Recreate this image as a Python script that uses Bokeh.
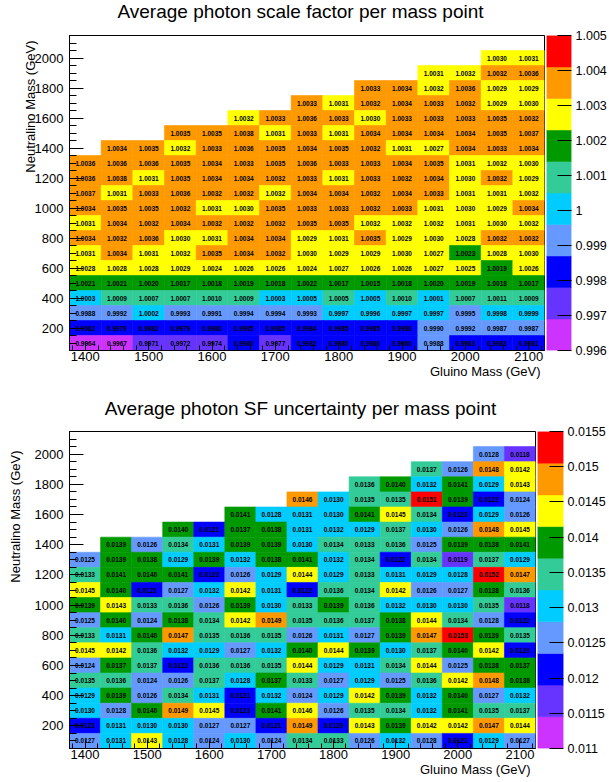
from bokeh.plotting import figure
from bokeh.models import (Range1d, LinearColorMapper, FixedTicker, Title,
                          SingleIntervalTicker, CustomJSTickFormatter, ColumnDataSource)
from bokeh.layouts import column, row
from bokeh.embed import file_html
from bokeh.resources import INLINE
from bokeh.core.properties import value

# ---------------- data ----------------
gluino = [1400, 1450, 1500, 1550, 1600, 1650, 1700, 1750, 1800, 1850, 1900, 1950, 2000, 2050, 2100]
neutralino = [2000, 1900, 1800, 1700, 1600, 1500, 1400, 1300, 1200, 1100,
              1000, 900, 800, 700, 600, 500, 400, 300, 200, 100]

N = None
# Average photon scale factor (rows listed from top, neutralino 2000 ... 100)
sf_2000 = [N, N, N, N, N, N, N, N, N, N, N, N, N, 1.0030, 1.0031]
sf_1900 = [N, N, N, N, N, N, N, N, N, N, N, 1.0031, 1.00318, 1.00322, 1.0036]
sf_1800 = [N, N, N, N, N, N, N, N, N, 1.0033, 1.0034, 1.00318, 1.0036, 1.0029, 1.0029]
sf_1700 = [N, N, N, N, N, N, N, 1.0033, 1.0031, 1.00322, 1.0034, 1.0033, 1.00322, 1.0029, 1.0030]
sf_1600 = [N, N, N, N, N, 1.00318, 1.0033, 1.0036, 1.0033, 1.0030, 1.0033, 1.0033, 1.0033, 1.0035, 1.00322]
sf_1500 = [N, N, N, 1.0035, 1.0035, 1.0038, 1.0031, 1.0033, 1.0031, 1.0034, 1.0034, 1.0034, 1.0034, 1.0035, 1.0037]
sf_1400 = [N, 1.0034, 1.0035, 1.00318, 1.0033, 1.0036, 1.0035, 1.0034, 1.0035, 1.00322, 1.0031, 1.0027, 1.0034, 1.0033, 1.0034]
sf_1300 = [1.0036, 1.0036, 1.0036, 1.0035, 1.0034, 1.0033, 1.0035, 1.0036, 1.0033, 1.0033, 1.0034, 1.0035, 1.0031, 1.00318, 1.0030]
sf_1200 = [1.0036, 1.0038, 1.0031, 1.0035, 1.0034, 1.0034, 1.00322, 1.0033, 1.0031, 1.0033, 1.00322, 1.0034, 1.0030, 1.00322, 1.0029]
sf_1100 = [1.0037, 1.0031, 1.0033, 1.0036, 1.00322, 1.00322, 1.00318, 1.0034, 1.0034, 1.00322, 1.0034, 1.0033, 1.0031, 1.0031, 1.00318]
sf_1000 = [1.0034, 1.0035, 1.0035, 1.00322, 1.0031, 1.0030, 1.0035, 1.0033, 1.0033, 1.00322, 1.0033, 1.0031, 1.0030, 1.0029, 1.0034]
sf_0900 = [1.0031, 1.0034, 1.00322, 1.0034, 1.00322, 1.00322, 1.00322, 1.0035, 1.0035, 1.00318, 1.00318, 1.00318, 1.0031, 1.0030, 1.00318]
sf_0800 = [1.0034, 1.00322, 1.0036, 1.0030, 1.0031, 1.0034, 1.0034, 1.0029, 1.0031, 1.0035, 1.0029, 1.0030, 1.0028, 1.00322, 1.00322]
sf_0700 = [1.0031, 1.0034, 1.0031, 1.00318, 1.0035, 1.0034, 1.00322, 1.0030, 1.0029, 1.0029, 1.0030, 1.0027, 1.00228, 1.0028, 1.0030]
sf_0600 = [1.0028, 1.0028, 1.0028, 1.0029, 1.0024, 1.0026, 1.0026, 1.0024, 1.0027, 1.0026, 1.0026, 1.0027, 1.0025, 1.0019, 1.0026]
sf_0500 = [1.0021, 1.0021, 1.0020, 1.0017, 1.0018, 1.0019, 1.0018, 1.0022, 1.0017, 1.0015, 1.0018, 1.0020, 1.0019, 1.0018, 1.0017]
sf_0400 = [1.0003, 1.0009, 1.0007, 1.0007, 1.0010, 1.0009, 1.0003, 1.00048, 1.00052, 1.00048, 1.0010, 1.0001, 1.0007, 1.0011, 1.0009]
sf_0300 = [0.9988, 0.9992, 1.0002, 0.9993, 0.9991, 0.9994, 0.9994, 0.9993, 0.9997, 0.99962, 0.9997, 0.9997, 0.9995, 0.9998, 0.9999]
sf_0200 = [0.9982, 0.9979, 0.9982, 0.9979, 0.9980, 0.9985, 0.9985, 0.9984, 0.9985, 0.9985, 0.9986, 0.9990, 0.9992, 0.99872, 0.99872]
sf_0100 = [0.9964, 0.9967, 0.9971, 0.9972, 0.9974, 0.9980, 0.9977, 0.9982, 0.9980, 0.9980, 0.9980, 0.9988, 0.9983, 0.9983, 0.9981]

# Average photon SF uncertainty
un_2000 = [N, N, N, N, N, N, N, N, N, N, N, N, N, 0.01279, 0.0118]
un_1900 = [N, N, N, N, N, N, N, N, N, N, N, 0.01369, 0.0126, 0.0148, 0.0142]
un_1800 = [N, N, N, N, N, N, N, N, N, 0.0136, 0.0140, 0.0132, 0.0141, 0.0129, 0.0143]
un_1700 = [N, N, N, N, N, N, N, 0.01461, 0.0130, 0.0135, 0.0135, 0.0151, 0.0139, 0.0122, 0.0124]
un_1600 = [N, N, N, N, N, 0.0141, 0.01281, 0.0131, 0.0130, 0.0141, 0.0145, 0.0134, 0.0123, 0.0129, 0.0126]
un_1500 = [N, N, N, 0.0140, 0.0121, 0.01371, 0.0138, 0.0131, 0.0132, 0.0129, 0.01369, 0.0130, 0.0126, 0.0148, 0.0145]
un_1400 = [N, 0.0139, 0.0126, 0.0134, 0.0131, 0.0139, 0.0139, 0.0130, 0.0134, 0.0133, 0.0136, 0.0125, 0.0139, 0.0138, 0.0141]
un_1300 = [0.0125, 0.0139, 0.0138, 0.0129, 0.0139, 0.0132, 0.0138, 0.0141, 0.0132, 0.0134, 0.0122, 0.0134, 0.01189, 0.01369, 0.0129]
un_1200 = [0.0133, 0.0141, 0.0140, 0.0141, 0.0123, 0.0126, 0.0129, 0.0144, 0.0129, 0.0133, 0.0131, 0.0129, 0.01281, 0.0152, 0.0147]
un_1100 = [0.0145, 0.0140, 0.0121, 0.0127, 0.0132, 0.0142, 0.0131, 0.0122, 0.0136, 0.0134, 0.0142, 0.0126, 0.0127, 0.0138, 0.0136]
un_1000 = [0.0139, 0.0143, 0.0133, 0.0136, 0.0126, 0.0139, 0.0130, 0.0133, 0.0139, 0.0136, 0.0132, 0.0130, 0.0130, 0.0135, 0.0118]
un_0900 = [0.0125, 0.0140, 0.0124, 0.0138, 0.0134, 0.0142, 0.0149, 0.0135, 0.0136, 0.01369, 0.0138, 0.0144, 0.0134, 0.01279, 0.0122]
un_0800 = [0.0133, 0.0131, 0.0140, 0.0147, 0.0135, 0.0136, 0.0135, 0.0126, 0.0131, 0.0127, 0.0139, 0.0147, 0.0153, 0.0139, 0.0135]
un_0700 = [0.0145, 0.0142, 0.0136, 0.0132, 0.0129, 0.0127, 0.0132, 0.0140, 0.0144, 0.0139, 0.0130, 0.01369, 0.0140, 0.0142, 0.0123]
un_0600 = [0.0124, 0.01371, 0.01369, 0.0122, 0.0136, 0.0136, 0.0135, 0.0144, 0.0129, 0.0131, 0.0134, 0.0144, 0.0125, 0.0138, 0.01371]
un_0500 = [0.0135, 0.0136, 0.0124, 0.0126, 0.01369, 0.01281, 0.01371, 0.0133, 0.0127, 0.0129, 0.0125, 0.0136, 0.0142, 0.0148, 0.0138]
un_0400 = [0.0129, 0.0139, 0.0126, 0.0134, 0.0131, 0.0121, 0.0132, 0.0124, 0.0129, 0.0142, 0.0139, 0.0132, 0.0140, 0.0127, 0.0132]
un_0300 = [0.0130, 0.01279, 0.0140, 0.0149, 0.0145, 0.0123, 0.0141, 0.01459, 0.0126, 0.0135, 0.0134, 0.0132, 0.0141, 0.0135, 0.01369]
un_0200 = [0.0123, 0.0131, 0.0130, 0.0130, 0.0127, 0.0127, 0.0121, 0.0149, 0.0120, 0.0143, 0.0139, 0.0142, 0.0142, 0.0147, 0.0144]
un_0100 = [0.0127, 0.0131, 0.0143, 0.01281, 0.0124, 0.0130, 0.0124, 0.0134, 0.0133, 0.0126, 0.0132, 0.01279, 0.0121, 0.0129, 0.0127]

sf_rows = [sf_2000, sf_1900, sf_1800, sf_1700, sf_1600, sf_1500, sf_1400, sf_1300, sf_1200, sf_1100,
           sf_1000, sf_0900, sf_0800, sf_0700, sf_0600, sf_0500, sf_0400, sf_0300, sf_0200, sf_0100]
un_rows = [un_2000, un_1900, un_1800, un_1700, un_1600, un_1500, un_1400, un_1300, un_1200, un_1100,
           un_1000, un_0900, un_0800, un_0700, un_0600, un_0500, un_0400, un_0300, un_0200, un_0100]

sf_ticks = [0.996, 0.997, 0.998, 0.999, 1.0, 1.001, 1.002, 1.003, 1.004, 1.005]
un_ticks = [0.011, 0.0115, 0.012, 0.0125, 0.013, 0.0135, 0.014, 0.0145, 0.015, 0.0155]

palette = ["#CC33FF", "#6633FF", "#0000FF", "#6699FF", "#00CCFF",
           "#33CC99", "#009900", "#FFFF00", "#FF9900", "#FF0000"]

title_top = "Average photon scale factor per mass point"
title_bot = "Average photon SF uncertainty per mass point"
xtitle = "Gluino Mass (GeV)"
ytitle = "Neutralino Mass (GeV)"

FONT = "Liberation Sans"
W = 609


def title_strip(text, height, center_from_top):
    t = figure(width=W, height=height, x_range=Range1d(0, W), y_range=Range1d(0, height),
               output_backend="svg", toolbar_location=None, x_axis_location=None,
               y_axis_location=None, min_border=0)
    t.grid.visible = False
    t.outline_line_color = None
    t.background_fill_color = "white"
    t.border_fill_color = "white"
    t.text(x=[300], y=[height - center_from_top], text=[text], text_align="center",
           text_baseline="middle", text_font=value(FONT), text_font_size="19px",
           text_color="black")
    return t


def make_panel(rows, low, high, ticks, H, main_w, cb_w, bar_w, top, bottom,
               xt_off, xt_standoff, yt_off, yt_standoff):
    xs, ys, zs, lbls = [], [], [], []
    for r, rw in enumerate(rows):
        for c, v in enumerate(rw):
            if v is None:
                continue
            xs.append(gluino[c]); ys.append(neutralino[r]); zs.append(v)
            lbls.append("%.4f" % v)
    src = ColumnDataSource(dict(x=xs, y=ys, z=zs, lbl=lbls))
    mapper = LinearColorMapper(palette=palette, low=low, high=high)

    p = figure(width=main_w, height=H, x_range=Range1d(1375, 2125), y_range=Range1d(50, 2150),
               output_backend="svg", toolbar_location=None,
               min_border_left=69, min_border_right=2,
               min_border_top=top, min_border_bottom=bottom)
    p.grid.visible = False
    p.outline_line_color = "black"
    p.outline_line_width = 1
    p.background_fill_color = "white"
    p.border_fill_color = "white"

    p.rect(x="x", y="y", width=50, height=100, source=src,
           fill_color={"field": "z", "transform": mapper},
           line_color={"field": "z", "transform": mapper}, line_width=0.6)
    p.text(x="x", y="y", text="lbl", source=src, text_align="center", text_baseline="middle",
           text_font=value(FONT), text_font_style="bold", text_font_size="6.5px",
           text_color="black")

    xa = p.xaxis[0]
    xa.ticker = SingleIntervalTicker(interval=100, num_minor_ticks=5)
    xa.major_tick_in = 9; xa.major_tick_out = 0
    xa.minor_tick_in = 5; xa.minor_tick_out = 0
    xa.major_label_standoff = 1
    ya = p.yaxis[0]
    ya.ticker = SingleIntervalTicker(interval=200, num_minor_ticks=4)
    ya.major_tick_in = 14; ya.major_tick_out = 0
    ya.minor_tick_in = 7; ya.minor_tick_out = 0
    ya.major_label_standoff = 6
    for ax in (xa, ya):
        ax.axis_line_color = "black"
        ax.major_tick_line_color = "black"
        ax.minor_tick_line_color = "black"
        ax.major_label_text_font = FONT
        ax.major_label_text_font_size = "13px"
        ax.major_label_text_color = "black"

    p.add_layout(Title(text=xtitle, align="right", offset=xt_off, standoff=xt_standoff,
                       text_font=FONT, text_font_size="13px", text_font_style="normal",
                       text_color="black"), "below")
    p.add_layout(Title(text=ytitle, align="right", offset=yt_off, standoff=yt_standoff,
                       vertical_align="top",
                       text_font=FONT, text_font_size="13px", text_font_style="normal",
                       text_color="black"), "left")

    # colour scale as its own narrow figure, same vertical frame
    step = (high - low) / len(palette)
    bottoms = [low + i * step for i in range(len(palette))]
    tops = [low + (i + 1) * step for i in range(len(palette))]
    cb = figure(width=cb_w, height=H, x_range=Range1d(0, 1), y_range=Range1d(low, high),
                output_backend="svg", toolbar_location=None, x_axis_location=None,
                y_axis_location="right", min_border_left=0,
                min_border_right=cb_w - bar_w, min_border_top=top, min_border_bottom=bottom)
    cb.grid.visible = False
    cb.outline_line_color = None
    cb.border_fill_color = "white"
    cb.quad(left=0, right=1, bottom=bottoms, top=tops, fill_color=palette, line_color=palette,
            line_width=0.5)
    ca = cb.yaxis[0]
    ca.ticker = FixedTicker(ticks=ticks, minor_ticks=[])
    ca.formatter = CustomJSTickFormatter(code="return String(tick);")
    ca.axis_line_color = None
    ca.major_tick_in = 14
    ca.major_tick_out = 0
    ca.major_tick_line_color = "black"
    ca.minor_tick_line_color = None
    ca.major_label_standoff = 4
    ca.major_label_text_font = FONT
    ca.major_label_text_font_size = "12.5px"
    ca.major_label_text_color = "black"
    return row(p, cb, spacing=0)


t1 = title_strip(title_top, 22, 11)
r1 = make_panel(sf_rows, 0.996, 1.005, sf_ticks, H=369, main_w=546, cb_w=63, bar_w=27,
                top=13, bottom=41, xt_off=4, xt_standoff=-3, yt_off=5, yt_standoff=-17)
t2 = title_strip(title_bot, 30, 17)
r2 = make_panel(un_rows, 0.011, 0.0155, un_ticks, H=361, main_w=537, cb_w=72, bar_w=26,
                top=10, bottom=34, xt_off=5, xt_standoff=-4, yt_off=19, yt_standoff=14)

layout = column(t1, r1, t2, r2, spacing=0)
open("out.html", "w").write(file_html(layout, INLINE))
